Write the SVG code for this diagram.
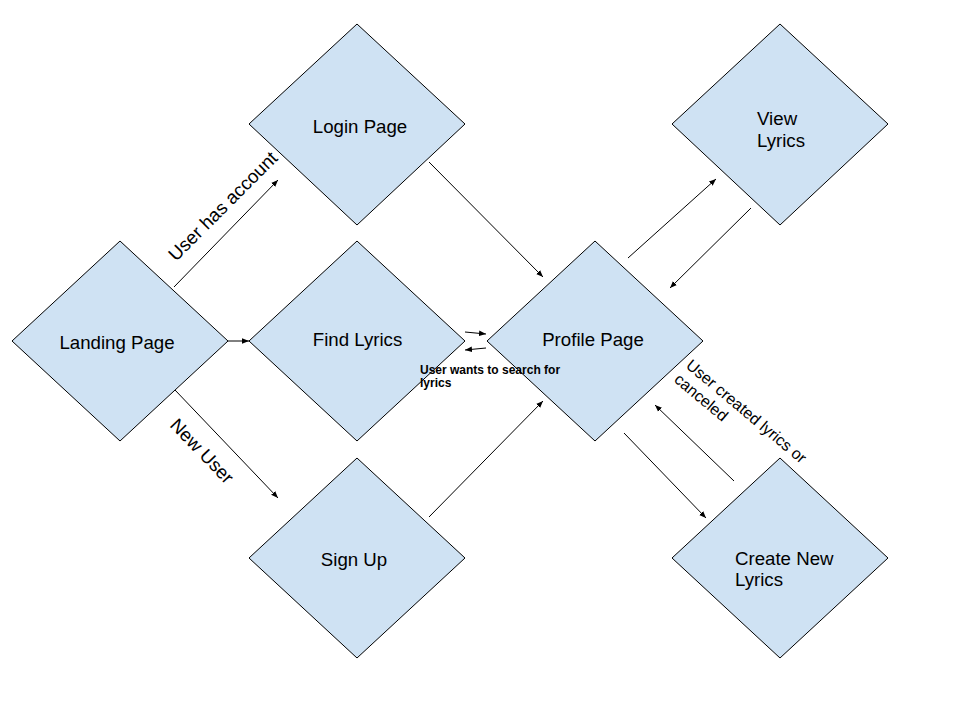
<svg xmlns="http://www.w3.org/2000/svg" width="960" height="720" viewBox="0 0 960 720">
  <defs>
    <marker id="ah" viewBox="0 0 10 10" refX="10" refY="5" markerWidth="7" markerHeight="7" markerUnits="userSpaceOnUse" orient="auto">
      <path d="M0,1 L10,5 L0,9 Z" fill="#000"/>
    </marker>
    <style>
      .node { fill: #cfe2f3; stroke: #000; stroke-width: 1; }
      .lbl { font-family: "Liberation Sans", Arial, sans-serif; font-size: 18.67px; fill: #000; }
      .lbl16 { font-family: "Liberation Sans", Arial, sans-serif; font-size: 16px; fill: #000; }
      .c { text-anchor: middle; }
      .edge { stroke: #000; stroke-width: 1; fill: none; marker-end: url(#ah); }
      .small { font-family: "Liberation Sans", Arial, sans-serif; font-size: 12px; font-weight: bold; fill: #000; }
    </style>
  </defs>
  <rect width="960" height="720" fill="#fff"/>

  <g id="landing">
    <polygon class="node" points="12,341 120,241 228,341 120,441"/>
    <text class="lbl c" x="117" y="349">Landing Page</text>
  </g>
  <g id="login">
    <polygon class="node" points="249,124 357,24 465,124 357,225"/>
    <text class="lbl c" x="360" y="133">Login Page</text>
  </g>
  <g id="find">
    <polygon class="node" points="249,341 357,241 465,341 357,441"/>
    <text class="lbl c" x="357.5" y="346">Find Lyrics</text>
  </g>
  <g id="signup">
    <polygon class="node" points="249,558 357,458 465,558 357,658"/>
    <text class="lbl c" x="354" y="566">Sign Up</text>
  </g>
  <g id="profile">
    <polygon class="node" points="487,341 595,241 703,341 595,441"/>
    <text class="lbl c" x="593" y="346">Profile Page</text>
  </g>
  <g id="view">
    <polygon class="node" points="672,124 780,24 888,124 780,225"/>
    <text class="lbl" x="757" y="125">View<tspan x="757" y="147">Lyrics</tspan></text>
  </g>
  <g id="create">
    <polygon class="node" points="672,558 780,458 888,558 780,658"/>
    <text class="lbl" x="735" y="565">Create New<tspan x="735" y="586">Lyrics</tspan></text>
  </g>

  <g id="connectors">
    <line class="edge" x1="174" y1="287" x2="278" y2="180"/>
    <line class="edge" x1="228" y1="341" x2="249" y2="341"/>
    <line class="edge" x1="175" y1="390" x2="278" y2="498"/>
    <line class="edge" x1="429" y1="162" x2="543" y2="277"/>
    <line class="edge" x1="429" y1="517" x2="543" y2="401"/>
    <line class="edge" x1="465" y1="332" x2="486" y2="334"/>
    <line class="edge" x1="486" y1="348" x2="465" y2="350"/>
    <line class="edge" x1="628" y1="258" x2="716" y2="179"/>
    <line class="edge" x1="751" y1="208" x2="670" y2="288"/>
    <line class="edge" x1="624" y1="433" x2="706" y2="518"/>
    <line class="edge" x1="734" y1="481" x2="655" y2="405"/>
    <text class="lbl" transform="translate(176,262) rotate(-45)">User has account</text>
    <text class="lbl" transform="translate(169,426) rotate(46)">New User</text>
    <text class="lbl16" transform="translate(685,367) rotate(40)">User created lyrics or<tspan x="0" y="18.4">canceled</tspan></text>
    <text class="small" x="420" y="374">User wants to search for<tspan x="420" y="387">lyrics</tspan></text>
  </g>
</svg>
